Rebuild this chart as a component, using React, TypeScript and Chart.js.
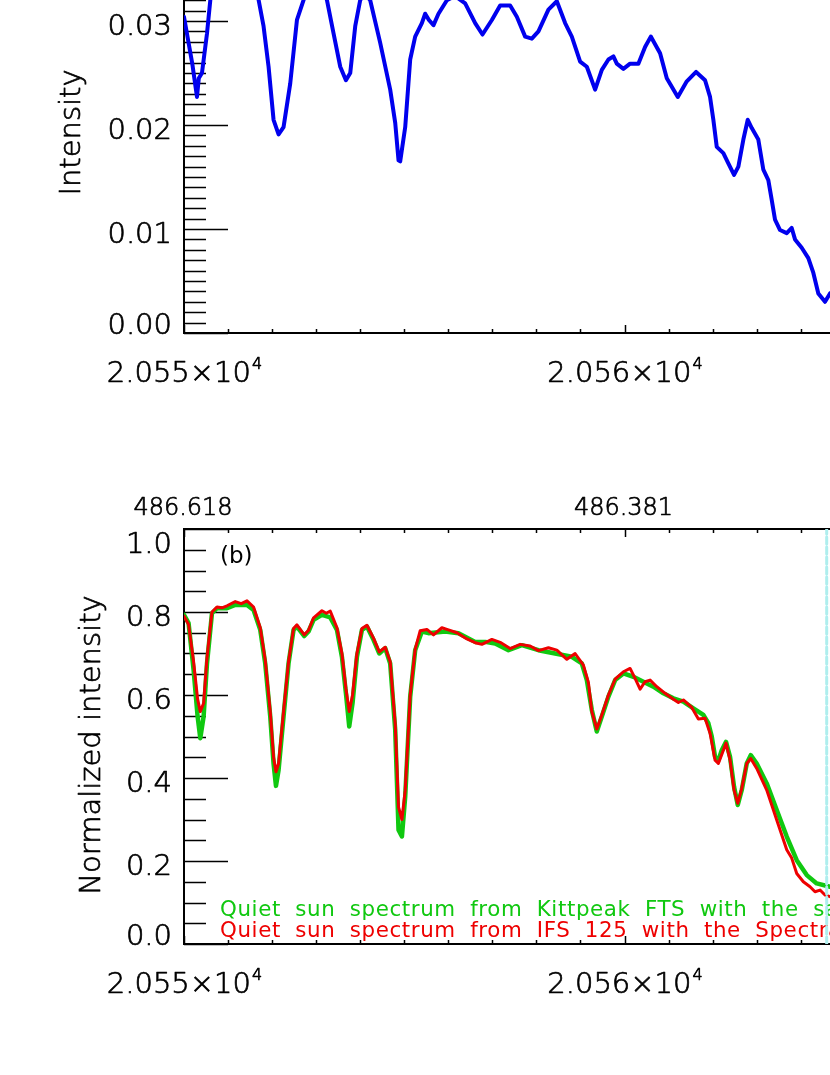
import React, { useEffect, useRef } from "react";
import { Chart, registerables } from "chart.js";

Chart.register(...registerables);

// ---------- data (wavenumber in cm^-1) ----------
const topWavenumber = [
  20550.0, 20550.104, 20550.188, 20550.295, 20550.336, 20550.408, 20550.522, 20550.597, 20550.688, 20550.824,
  20551.051, 20551.278, 20551.504, 20551.686, 20551.806, 20551.92, 20552.033, 20552.147, 20552.26, 20552.412,
  20552.564, 20552.714, 20552.821, 20552.979, 20553.138, 20553.245, 20553.395, 20553.547, 20553.676, 20553.774,
  20553.887, 20554.0, 20554.091, 20554.227, 20554.454, 20554.681, 20554.795, 20554.87, 20554.908, 20555.022,
  20555.135, 20555.248, 20555.4, 20555.475, 20555.56, 20555.664, 20555.777, 20555.968, 20556.156, 20556.383,
  20556.61, 20556.776, 20556.989, 20557.177, 20557.404, 20557.556, 20557.745, 20557.896, 20558.046, 20558.273,
  20558.464, 20558.652, 20558.804, 20558.993, 20559.145, 20559.333, 20559.485, 20559.635, 20559.748, 20559.825,
  20559.975, 20560.127, 20560.315, 20560.467, 20560.597, 20560.808, 20560.96, 20561.21, 20561.414, 20561.625,
  20561.829, 20561.942, 20562.017, 20562.094, 20562.244, 20562.357, 20562.487, 20562.585, 20562.698, 20562.798,
  20562.889, 20563.038, 20563.152, 20563.265, 20563.342, 20563.417, 20563.531, 20563.683, 20563.796, 20563.871,
  20564.023, 20564.173, 20564.286, 20564.4, 20564.552, 20564.665, 20564.8, 20565.0,
];
const topIntensity = [
  0.0304, 0.0279, 0.0259, 0.0227, 0.0245, 0.025, 0.0288, 0.032, 0.0338, 0.035,
  0.0356, 0.0354, 0.0348, 0.0322, 0.0295, 0.0256, 0.0205, 0.0191, 0.0198, 0.024,
  0.0301, 0.032, 0.0334, 0.0341, 0.0334, 0.032, 0.0288, 0.0256, 0.0243, 0.025,
  0.0295, 0.032, 0.0327, 0.032, 0.0279, 0.0234, 0.0202, 0.0166, 0.0165, 0.0198,
  0.0263, 0.0285, 0.0298, 0.0307, 0.0301, 0.0296, 0.0307, 0.032, 0.0324, 0.0317,
  0.0298, 0.0287, 0.0301, 0.0315, 0.0315, 0.0304, 0.0285, 0.0283, 0.029, 0.0311,
  0.0319, 0.0298, 0.0285, 0.0261, 0.0256, 0.0234, 0.0253, 0.0263, 0.0266, 0.0259,
  0.0254, 0.0259, 0.0259, 0.0275, 0.0285, 0.0269, 0.0245, 0.0227, 0.0242, 0.0251,
  0.0243, 0.0227, 0.0205, 0.0179, 0.0173, 0.0163, 0.0152, 0.016, 0.0186, 0.0205,
  0.0197, 0.0186, 0.0157, 0.0147, 0.0128, 0.0109, 0.0099, 0.0096, 0.0101, 0.009,
  0.0082, 0.0072, 0.0058, 0.0038, 0.003, 0.0038, 0.0042, 0.0048,
];

const kittpeakWavenumber = [
  20550.0, 20550.104, 20550.218, 20550.309, 20550.37, 20550.445, 20550.522, 20550.635, 20550.749, 20550.976,
  20551.164, 20551.43, 20551.579, 20551.731, 20551.844, 20551.958, 20552.033, 20552.088, 20552.147, 20552.26,
  20552.373, 20552.487, 20552.564, 20552.73, 20552.827, 20552.941, 20553.131, 20553.32, 20553.472, 20553.585,
  20553.676, 20553.751, 20553.826, 20553.926, 20554.039, 20554.153, 20554.302, 20554.432, 20554.568, 20554.681,
  20554.795, 20554.87, 20554.947, 20555.022, 20555.135, 20555.248, 20555.4, 20555.55, 20555.929, 20556.231,
  20556.61, 20556.837, 20557.064, 20557.366, 20557.67, 20558.046, 20558.425, 20558.804, 20559.031, 20559.145,
  20559.258, 20559.371, 20559.485, 20559.635, 20559.787, 20559.975, 20560.202, 20560.429, 20560.656, 20560.883,
  20561.11, 20561.336, 20561.563, 20561.79, 20561.904, 20561.981, 20562.056, 20562.131, 20562.208, 20562.305,
  20562.396, 20562.487, 20562.571, 20562.662, 20562.775, 20562.866, 20563.002, 20563.229, 20563.456, 20563.683,
  20563.91, 20564.137, 20564.363, 20564.665, 20565.0, 20565.4,
];
const kittpeakIntensity = [
  0.793, 0.773, 0.66, 0.548, 0.496, 0.548, 0.676, 0.797, 0.809, 0.809,
  0.817, 0.817, 0.805, 0.757, 0.676, 0.548, 0.435, 0.381, 0.419, 0.548,
  0.676, 0.757, 0.765, 0.742, 0.753, 0.781, 0.793, 0.787, 0.757, 0.692,
  0.604, 0.524, 0.58, 0.692, 0.757, 0.765, 0.733, 0.7, 0.713, 0.676,
  0.516, 0.275, 0.259, 0.355, 0.596, 0.708, 0.753, 0.749, 0.753, 0.749,
  0.728, 0.728, 0.724, 0.708, 0.72, 0.708, 0.7, 0.692, 0.676, 0.636,
  0.564, 0.512, 0.548, 0.596, 0.636, 0.652, 0.644, 0.632, 0.62, 0.604,
  0.592, 0.584, 0.568, 0.552, 0.532, 0.5, 0.451, 0.443, 0.467, 0.487,
  0.451, 0.379, 0.335, 0.371, 0.435, 0.455, 0.435, 0.387, 0.323, 0.259,
  0.202, 0.166, 0.146, 0.138, 0.134, 0.132,
];

const ifsWavenumber = [
  20550.0, 20550.104, 20550.218, 20550.309, 20550.37, 20550.445, 20550.522, 20550.635, 20550.749, 20550.86,
  20550.976, 20551.164, 20551.3, 20551.43, 20551.579, 20551.731, 20551.844, 20551.958, 20552.033, 20552.088,
  20552.147, 20552.26, 20552.373, 20552.487, 20552.564, 20552.73, 20552.827, 20552.941, 20553.131, 20553.23,
  20553.32, 20553.472, 20553.585, 20553.676, 20553.751, 20553.826, 20553.926, 20554.039, 20554.153, 20554.302,
  20554.432, 20554.568, 20554.681, 20554.795, 20554.87, 20554.947, 20555.022, 20555.135, 20555.248, 20555.362,
  20555.514, 20555.664, 20555.854, 20556.004, 20556.195, 20556.422, 20556.61, 20556.762, 20556.989, 20557.177,
  20557.404, 20557.631, 20557.858, 20558.046, 20558.273, 20558.464, 20558.691, 20558.879, 20559.067, 20559.181,
  20559.258, 20559.371, 20559.485, 20559.635, 20559.787, 20559.975, 20560.127, 20560.24, 20560.354, 20560.467,
  20560.581, 20560.733, 20560.921, 20561.11, 20561.223, 20561.336, 20561.527, 20561.677, 20561.829, 20561.942,
  20562.056, 20562.131, 20562.305, 20562.396, 20562.487, 20562.571, 20562.662, 20562.775, 20562.866, 20563.002,
  20563.229, 20563.456, 20563.683, 20563.796, 20563.91, 20564.06, 20564.212, 20564.325, 20564.439, 20564.552,
  20564.665, 20565.0, 20565.4,
];
const ifsIntensity = [
  0.79, 0.77, 0.68, 0.59, 0.56, 0.58, 0.69, 0.8, 0.812, 0.81,
  0.815, 0.825, 0.82, 0.827, 0.812, 0.762, 0.684, 0.56, 0.45, 0.415,
  0.435, 0.56, 0.68, 0.76, 0.769, 0.745, 0.756, 0.786, 0.803, 0.797,
  0.802, 0.762, 0.7, 0.615, 0.56, 0.6, 0.7, 0.76, 0.768, 0.737,
  0.704, 0.715, 0.68, 0.53, 0.33, 0.3, 0.37, 0.6, 0.71, 0.755,
  0.758, 0.745, 0.762, 0.757, 0.75, 0.735, 0.726, 0.722, 0.734, 0.727,
  0.712, 0.722, 0.718, 0.707, 0.714, 0.708, 0.686, 0.7, 0.672, 0.63,
  0.56, 0.518, 0.552, 0.6, 0.638, 0.656, 0.664, 0.64, 0.614, 0.632,
  0.636, 0.62, 0.604, 0.59, 0.582, 0.588, 0.57, 0.542, 0.544, 0.508,
  0.443, 0.435, 0.484, 0.443, 0.371, 0.339, 0.375, 0.435, 0.447, 0.423,
  0.371, 0.299, 0.227, 0.207, 0.17, 0.15, 0.138, 0.126, 0.13, 0.118,
  0.114, 0.11, 0.108,
];

const markerWavenumber = [20564.59, 20564.59];
const markerLevel = [0, 1];

// ---------- axes ----------
const xRange = [20550, 20570];
const xMajorTicks = [20550, 20560, 20570];
const xMinorStep = 1;
const topYRange = [0, 0.04];
const topYMajorTicks = [0, 0.01, 0.02, 0.03, 0.04];
const topYMinorStep = 0.001;
const bottomYRange = [0, 1.0];
const bottomYMajorTicks = [0, 0.2, 0.4, 0.6, 0.8, 1.0];
const bottomYMinorStep = 0.05;

const topTitle = "Intensity";
const bottomTitle = "Normalized intensity";
const panelLabel = "(b)";
const legendKittpeak = "Quiet sun spectrum from Kittpeak FTS with the same resolution";
const legendIfs = "Quiet sun spectrum from IFS 125 with the Spectral resolution";

const FONT = '"DejaVu Sans", "Liberation Sans", sans-serif';
const BLUE = "rgb(0,0,238)";
const RED = "rgb(238,0,0)";
const GREEN = "rgb(16,200,16)";
const CYAN = "rgb(175,238,238)";

type PanelCfg = {
  yMajor: number[];
  yMinorStep: number;
  yDecimals: number;
  title: string;
  titleX: number;
  titleCenterFromBottom: number;
  wavelengthAxis: boolean;
  extra?: (ctx: CanvasRenderingContext2D, a: any) => void;
};

function text(ctx: CanvasRenderingContext2D, s: string, x: number, y: number) {
  ctx.fillText(s, x, y);
  ctx.strokeText(s, x, y);
}

function makeIdlPlugin(cfg: PanelCfg) {
  return {
    id: "idlAxes",
    beforeDatasetsDraw(chart: any) {
      const ctx: CanvasRenderingContext2D = chart.ctx;
      const a = chart.chartArea;
      const xs = chart.scales.x;
      const ys = chart.scales.y;
      ctx.save();
      ctx.strokeStyle = "#000";
      ctx.fillStyle = "#000";

      // frame
      ctx.lineWidth = 2;
      ctx.strokeRect(a.left, a.top, a.right - a.left, a.bottom - a.top);

      // y ticks (inward)
      ctx.lineWidth = 1.5;
      const yMin = ys.min;
      const yMax = ys.max;
      const nY = Math.round((yMax - yMin) / cfg.yMinorStep);
      for (let i = 0; i <= nY; i++) {
        const v = yMin + i * cfg.yMinorStep;
        const isMajor = cfg.yMajor.some((m) => Math.abs(m - v) < cfg.yMinorStep / 10);
        const len = isMajor ? 44 : 22;
        const p = Math.round(ys.getPixelForValue(v)) + 0.5;
        ctx.beginPath();
        ctx.moveTo(a.left, p);
        ctx.lineTo(a.left + len, p);
        ctx.moveTo(a.right, p);
        ctx.lineTo(a.right - len, p);
        ctx.stroke();
      }

      // x ticks (inward, bottom and top)
      const xMin = xs.min;
      const xMax = xs.max;
      const nX = Math.round((xMax - xMin) / xMinorStep);
      for (let i = 0; i <= nX; i++) {
        const v = xMin + i * xMinorStep;
        const isMajor = xMajorTicks.some((m) => Math.abs(m - v) < xMinorStep / 10);
        const len = isMajor ? 8 : 4;
        const p = Math.round(xs.getPixelForValue(v)) + 0.5;
        ctx.beginPath();
        ctx.moveTo(p, a.bottom);
        ctx.lineTo(p, a.bottom - len);
        ctx.moveTo(p, a.top);
        ctx.lineTo(p, a.top + len);
        ctx.stroke();
      }

      ctx.lineWidth = 0.7;
      ctx.lineJoin = "round";

      // y labels
      ctx.font = `300 29px ${FONT}`;
      ctx.textAlign = "right";
      ctx.textBaseline = "alphabetic";
      for (const v of cfg.yMajor) {
        const p = ys.getPixelForValue(v);
        let base = p + 14;
        if (Math.abs(v - yMin) < 1e-9) base = p + 1;
        else if (Math.abs(v - yMax) < 1e-9) base = p + 24;
        text(ctx, v.toFixed(cfg.yDecimals), a.left - 12, base);
      }

      // x labels (mantissa x 10^exp)
      for (const v of xMajorTicks) {
        if (v < xMin || v > xMax) continue;
        const px = xs.getPixelForValue(v);
        const exp = Math.floor(Math.log10(v));
        const main = `${(v / Math.pow(10, exp)).toFixed(3)}×10`;
        const sup = String(exp);
        ctx.font = `300 29px ${FONT}`;
        const w1 = ctx.measureText(main).width;
        ctx.font = `300 16px ${FONT}`;
        const w2 = ctx.measureText(sup).width;
        const x0 = px - (w1 + w2) / 2;
        ctx.textAlign = "left";
        ctx.font = `300 29px ${FONT}`;
        text(ctx, main, x0, a.bottom + 49);
        ctx.font = `300 16px ${FONT}`;
        text(ctx, sup, x0 + w1 + 1, a.bottom + 36);
      }

      // wavelength labels on top axis (nm = 1e7 / cm^-1)
      if (cfg.wavelengthAxis) {
        ctx.font = `300 24px ${FONT}`;
        ctx.textAlign = "center";
        for (const v of xMajorTicks) {
          if (v < xMin || v > xMax) continue;
          const px = xs.getPixelForValue(v);
          text(ctx, (1e7 / v).toFixed(3), px - 1, a.top - 14);
        }
      }

      // y title (rotated)
      ctx.save();
      ctx.font = `300 29px ${FONT}`;
      ctx.textAlign = "center";
      ctx.translate(cfg.titleX, a.bottom - cfg.titleCenterFromBottom);
      ctx.rotate(-Math.PI / 2);
      text(ctx, cfg.title, 0, 0);
      ctx.restore();

      if (cfg.extra) cfg.extra(ctx, a);
      ctx.restore();
    },
  };
}

function bottomExtras(ctx: CanvasRenderingContext2D, a: any) {
  ctx.textAlign = "left";
  ctx.fillStyle = "#000";
  ctx.font = `400 23px ${FONT}`;
  ctx.fillText(panelLabel, a.left + 36, a.top + 34);

  const c: any = ctx;
  ctx.font = `400 21.4px ${FONT}`;
  c.letterSpacing = "0.6px";
  c.wordSpacing = "7px";
  ctx.fillStyle = GREEN;
  ctx.fillText(legendKittpeak, a.left + 36, a.bottom - 28);
  ctx.fillStyle = RED;
  ctx.fillText(legendIfs, a.left + 36, a.bottom - 7);
  c.letterSpacing = "0px";
  c.wordSpacing = "0px";
}

function pairs(xs: number[], ys: number[]) {
  return xs.map((x, i) => ({ x, y: ys[i] }));
}

function baseOptions(yRange: number[], padding: any) {
  return {
    responsive: false,
    animation: false as const,
    events: [] as any[],
    layout: { padding },
    plugins: { legend: { display: false }, tooltip: { enabled: false } },
    scales: {
      x: { type: "linear" as const, min: xRange[0], max: xRange[1], display: false },
      y: { type: "linear" as const, min: yRange[0], max: yRange[1], display: false },
    },
    elements: {
      point: { radius: 0 },
      line: { tension: 0, borderJoinStyle: "round" as const, borderCapStyle: "round" as const },
    },
  };
}

const CANVAS_W = 1100;
const PAD_RIGHT = 35; // plot right edge at x = 1065 (off-page)

export default function App() {
  const topRef = useRef<HTMLCanvasElement>(null);
  const botRef = useRef<HTMLCanvasElement>(null);

  useEffect(() => {
    const topChart = new Chart(topRef.current!, {
      type: "line",
      data: {
        datasets: [
          { data: pairs(topWavenumber, topIntensity), borderColor: BLUE, borderWidth: 4, pointRadius: 0, fill: false },
        ],
      },
      options: baseOptions(topYRange, { left: 184, right: PAD_RIGHT, top: 37, bottom: 87 }) as any,
      plugins: [
        makeIdlPlugin({
          yMajor: topYMajorTicks,
          yMinorStep: topYMinorStep,
          yDecimals: 2,
          title: topTitle,
          titleX: 80,
          titleCenterFromBottom: 200.5,
          wavelengthAxis: false,
        }),
      ],
    });

    const botChart = new Chart(botRef.current!, {
      type: "line",
      data: {
        datasets: [
          {
            data: pairs(markerWavenumber, markerLevel),
            borderColor: CYAN,
            borderWidth: 3,
            borderDash: [7, 3],
            pointRadius: 0,
            fill: false,
          },
          { data: pairs(ifsWavenumber, ifsIntensity), borderColor: RED, borderWidth: 3, pointRadius: 0, fill: false },
          { data: pairs(kittpeakWavenumber, kittpeakIntensity), borderColor: GREEN, borderWidth: 4.5, pointRadius: 0, fill: false },
        ],
      },
      options: baseOptions(bottomYRange, { left: 184, right: PAD_RIGHT, top: 49, bottom: 131 }) as any,
      plugins: [
        makeIdlPlugin({
          yMajor: bottomYMajorTicks,
          yMinorStep: bottomYMinorStep,
          yDecimals: 1,
          title: bottomTitle,
          titleX: 100,
          titleCenterFromBottom: 199,
          wavelengthAxis: true,
          extra: bottomExtras,
        }),
      ],
    });

    return () => {
      topChart.destroy();
      botChart.destroy();
    };
  }, []);

  return (
    <div
      style={{
        position: "fixed",
        left: 0,
        top: 0,
        width: 830,
        height: 1075,
        overflow: "hidden",
        background: "#ffffff",
      }}
    >
      <canvas
        ref={topRef}
        width={CANVAS_W}
        height={540}
        style={{ position: "absolute", left: 0, top: -120, width: CANVAS_W, height: 540 }}
      />
      <canvas
        ref={botRef}
        width={CANVAS_W}
        height={595}
        style={{ position: "absolute", left: 0, top: 480, width: CANVAS_W, height: 595 }}
      />
    </div>
  );
}
